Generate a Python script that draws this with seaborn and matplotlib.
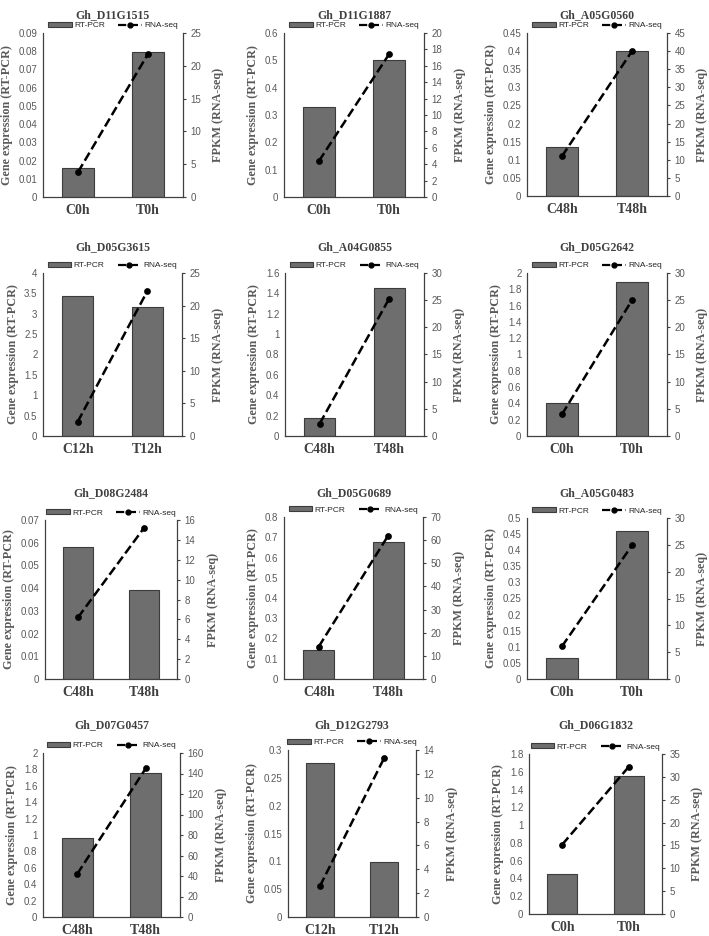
import matplotlib
matplotlib.use("Agg")
import matplotlib.pyplot as plt
import numpy as np
import seaborn as sns
from matplotlib.patches import Patch
from matplotlib.lines import Line2D

# data
genes = ["Gh_D11G1515", "Gh_D11G1887", "Gh_A05G0560",
         "Gh_D05G3615", "Gh_A04G0855", "Gh_D05G2642",
         "Gh_D08G2484", "Gh_D05G0689", "Gh_A05G0483",
         "Gh_D07G0457", "Gh_D12G2793", "Gh_D06G1832"]
groups = [["C0h", "T0h"], ["C0h", "T0h"], ["C48h", "T48h"],
          ["C12h", "T12h"], ["C48h", "T48h"], ["C0h", "T0h"],
          ["C48h", "T48h"], ["C48h", "T48h"], ["C0h", "T0h"],
          ["C48h", "T48h"], ["C12h", "T12h"], ["C0h", "T0h"]]
rtpcr = [[0.016, 0.0795], [0.33, 0.50], [0.134, 0.40],
         [3.44, 3.16], [0.18, 1.45], [0.41, 1.89],
         [0.058, 0.039], [0.145, 0.675], [0.065, 0.46],
         [0.96, 1.76], [0.277, 0.099], [0.445, 1.55]]
rnaseq = [[3.8, 21.8], [4.4, 17.4], [11.0, 40.0],
          [2.2, 22.2], [2.3, 25.3], [4.0, 25.0],
          [6.2, 15.2], [14.0, 62.0], [6.1, 24.9],
          [42.0, 145.0], [2.6, 13.3], [15.2, 32.2]]
left_max = [0.09, 0.6, 0.45, 4, 1.6, 2, 0.07, 0.8, 0.5, 2, 0.3, 1.8]
left_n = [9, 6, 9, 8, 8, 10, 7, 8, 10, 10, 6, 9]
right_max = [25, 20, 45, 25, 30, 30, 16, 70, 30, 160, 14, 35]
right_n = [5, 10, 9, 5, 6, 6, 8, 7, 6, 8, 7, 7]

# axes boxes in pixels (left, top, right, bottom)
boxes = [(43, 33, 183, 197), (284, 33, 424, 197), (527, 33, 667, 196),
         (43, 273, 182, 436), (285, 273, 424, 436), (527, 273, 667, 436),
         (45, 520, 177, 679), (284, 517, 423, 679), (527, 518, 667, 679),
         (43, 753, 180, 917), (288, 750, 416, 917), (529, 754, 662, 914)]
title_y = [15, 15, 15, 247, 247, 247, 493, 493, 493, 725, 725, 725]

W, H = 709, 936
bar_color = "#6e6e6e"
edge_color = "#3c3c3c"
text_gray = "#595959"
serif = "Liberation Serif"
sans = "Liberation Sans"

sns.set_style("white")
fig = plt.figure(figsize=(W / 100, H / 100), dpi=100)

for i in range(12):
    l, t, r, b = boxes[i]
    ax = fig.add_axes([l / W, 1 - b / H, (r - l) / W, (b - t) / H])
    ax2 = ax.twinx()

    sns.barplot(x=groups[i], y=rtpcr[i], ax=ax, color=bar_color, width=0.45,
                edgecolor=edge_color, linewidth=0.8, saturation=1)
    sns.pointplot(x=groups[i], y=rnaseq[i], ax=ax2, color="black", errorbar=None,
                  linestyle="--", marker="o", markersize=3.5, linewidth=1.8)

    ax.set_xlim(-0.5, 1.5)
    ax.set_ylim(0, left_max[i])
    ax.set_yticks(np.linspace(0, left_max[i], left_n[i] + 1))
    ax.yaxis.set_major_formatter(plt.FormatStrFormatter("%g"))
    ax2.set_ylim(0, right_max[i])
    ax2.set_yticks(np.linspace(0, right_max[i], right_n[i] + 1))
    ax2.yaxis.set_major_formatter(plt.FormatStrFormatter("%g"))

    for s in ["top", "right"]:
        ax.spines[s].set_visible(False)
    for s in ["top", "left", "bottom"]:
        ax2.spines[s].set_visible(False)
    for sp in [ax.spines["left"], ax.spines["bottom"], ax2.spines["right"]]:
        sp.set_color("#404040")
        sp.set_linewidth(0.9)

    ax.tick_params(axis="y", length=0, pad=4, labelsize=7, labelcolor=text_gray)
    ax2.tick_params(axis="y", length=2.5, width=0.8, color="#404040", pad=3,
                    labelsize=7, labelcolor=text_gray)
    ax.tick_params(axis="x", length=0, pad=5)
    for lab in ax.get_yticklabels() + ax2.get_yticklabels():
        lab.set_fontfamily(sans)
    for lab in ax.get_xticklabels():
        lab.set_fontfamily(serif)
        lab.set_fontweight("bold")
        lab.set_fontsize(10)
        lab.set_color("#404040")

    ax.set_xlabel("")
    ax.set_ylabel("Gene expression (RT-PCR)", fontfamily=serif, fontweight="bold",
                  fontsize=8.7, color=text_gray, labelpad=4)
    ax2.set_ylabel("FPKM (RNA-seq)", fontfamily=serif, fontweight="bold",
                   fontsize=8.7, color=text_gray, labelpad=8)

    handles = [Patch(facecolor=bar_color, edgecolor=edge_color, linewidth=0.8),
               Line2D([], [], color="black", linestyle="--", marker="o",
                      markersize=3.5, linewidth=1.6)]
    ax.legend(handles, ["RT-PCR", "RNA-seq"], ncol=2, frameon=False,
              loc="center", bbox_to_anchor=(0.5, 1.045),
              prop={"family": sans, "size": 6}, handlelength=2.8,
              handleheight=0.6, columnspacing=1.6, handletextpad=0.3,
              borderaxespad=0)

    fig.text((l + r) / 2 / W, 1 - title_y[i] / H, genes[i], ha="center",
             va="center", fontfamily=serif, fontweight="bold", fontsize=8.5,
             color="#404040")

fig.savefig("out.png", dpi=100)
